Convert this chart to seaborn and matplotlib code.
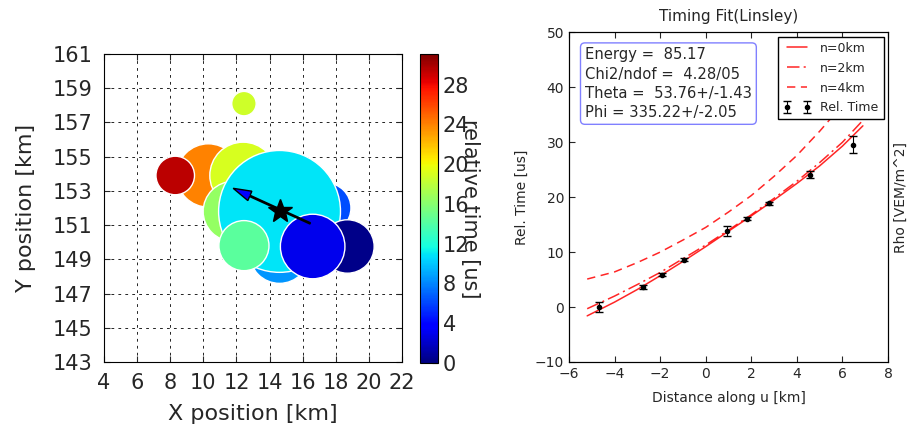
import numpy as np
import seaborn as sns
import matplotlib.pyplot as plt
from matplotlib import colors, cm

# --- left panel: stations (x, y in km), relative time [us], marker area
station_x = [10.3, 8.3, 12.4, 11.8, 14.6, 17.4, 14.6, 18.7, 16.6, 12.45, 12.45]
station_y = [153.9, 153.9, 153.9, 151.8, 149.35, 152.0, 151.8, 149.75, 149.75, 149.8, 158.1]
station_t = [24.0, 29.5, 19.0, 16.5, 8.5, 6.2, 10.9, 0.3, 3.0, 14.3, 18.6]
station_area = [2080, 770, 2300, 1870, 1870, 1300, 7700, 1480, 2160, 1300, 310]

core_x, core_y = 14.6, 151.8
arrow_from = (16.45, 151.1)
arrow_to = (11.8, 153.15)

# --- right panel: timing fit
dist = [-4.68, -2.75, -1.92, -0.97, 0.95, 1.83, 2.78, 4.59, 6.47]
rel_time = [0.0, 3.6, 5.9, 8.6, 13.9, 16.1, 18.9, 24.1, 29.6]
rel_err = [0.9, 0.4, 0.3, 0.3, 0.9, 0.3, 0.3, 0.6, 1.5]

fit_x = [-5.2, -4, -3, -2, -1, 0, 1, 2, 3, 4, 5, 6, 6.9]
fit_n0 = [-1.6, 0.9, 3.2, 5.7, 8.3, 11.0, 13.8, 16.6, 19.5, 22.5, 25.7, 29.3, 33.0]
fit_n2 = [-0.3, 2.0, 4.1, 6.3, 8.8, 11.3, 14.0, 16.8, 19.8, 22.9, 26.3, 30.0, 34.0]
fit_n4 = [5.1, 6.4, 8.1, 10.0, 12.2, 14.5, 17.3, 20.3, 23.8, 27.6, 32.0, 36.8, 41.5]

fit_text = ("Energy =  85.17\nChi2/ndof =  4.28/05\n"
            "Theta =  53.76+/-1.43\nPhi = 335.22+/-2.05")

sns.set_style("white", rc={
    "xtick.direction": "in", "ytick.direction": "in",
    "xtick.top": True, "ytick.right": True,
    "xtick.bottom": True, "ytick.left": True,
    "axes.edgecolor": "black", "axes.linewidth": 1.0,
})
plt.rcParams['font.family'] = ['DejaVu Sans']
plt.rcParams['lines.scale_dashes'] = False

fig = plt.figure(figsize=(9.07, 4.33), dpi=100)
ax1 = fig.add_axes([0.1147, 0.164, 0.3286, 0.7113])
cax = fig.add_axes([0.463, 0.162, 0.0198, 0.7136])
ax2 = fig.add_axes([0.6273, 0.164, 0.3517, 0.761])

# left: station map
jet = plt.get_cmap("jet")
norm = colors.Normalize(vmin=0, vmax=31.1)
sns.scatterplot(x=station_x, y=station_y, hue=station_t, palette=jet,
                hue_norm=norm, s=station_area, edgecolor="white",
                linewidth=1.0, legend=False, ax=ax1, zorder=3)
ax1.plot(core_x, core_y, marker="*", color="black", markersize=18, zorder=5)
ax1.arrow(arrow_from[0], arrow_from[1],
          arrow_to[0] - arrow_from[0], arrow_to[1] - arrow_from[1],
          width=0.08, head_width=0.6, head_length=1.1,
          length_includes_head=True, fc="blue", ec="black", zorder=6)
ax1.set_xlim(4, 22)
ax1.set_ylim(143, 161)
ax1.set_xticks(np.arange(4, 23, 2))
ax1.set_yticks(np.arange(143, 162, 2))
ax1.grid(True, color="black", linestyle=(0, (2, 3)), linewidth=0.6)
ax1.tick_params(labelsize=15, length=4, pad=8)
ax1.set_xlabel("X position [km]", fontsize=16, labelpad=8)
ax1.set_ylabel("Y position [km]", fontsize=16, labelpad=12)

sm = cm.ScalarMappable(norm=norm, cmap=jet)
cbar = fig.colorbar(sm, cax=cax, ticks=np.arange(0, 29, 4))
cax.tick_params(labelsize=15, direction="in", length=4, left=False)
cax.text(2.8, 0.5, "relative time [us]", rotation=270, fontsize=15,
         ha="center", va="center", transform=cax.transAxes)

# right: timing fit
sns.lineplot(x=fit_x, y=fit_n0, ax=ax2, color="red", alpha=0.85,
             linewidth=1.1, label="n=0km")
sns.lineplot(x=fit_x, y=fit_n2, ax=ax2, color="red", alpha=0.85,
             linewidth=1.1, linestyle=(0, (9, 3, 1.5, 3)), label="n=2km")
sns.lineplot(x=fit_x, y=fit_n4, ax=ax2, color="red", alpha=0.85,
             linewidth=1.1, linestyle=(0, (6, 4)), label="n=4km")
eb = ax2.errorbar(dist, rel_time, yerr=rel_err, fmt="o", color="black",
                  markersize=3, capsize=3, elinewidth=0.8, label="Rel. Time")
ax2.set_xlim(-6, 8)
ax2.set_ylim(-10, 50)
ax2.set_xticks(np.arange(-6, 9, 2))
ax2.set_yticks(np.arange(-10, 51, 10))
ax2.tick_params(labelsize=10, length=4)
ax2.set_xlabel("Distance along u [km]", fontsize=10, labelpad=7)
ax2.set_ylabel("Rel. Time [us]", fontsize=10)
ax2.set_title("Timing Fit(Linsley)", fontsize=11, pad=8)

handles, labels = ax2.get_legend_handles_labels()
order = [labels.index(l) for l in ["n=0km", "n=2km", "n=4km", "Rel. Time"]]
leg = ax2.legend([handles[i] for i in order], [labels[i] for i in order],
                 loc="upper right", fontsize=9, numpoints=2, fancybox=False,
                 framealpha=1, edgecolor="black", labelspacing=0.55,
                 handlelength=2.2, borderaxespad=0.35)
leg.get_frame().set_linewidth(1.0)

ax2.text(0.05, 0.955, fit_text, transform=ax2.transAxes, fontsize=10.6,
         va="top", ha="left", linespacing=1.35,
         bbox=dict(boxstyle="round,pad=0.3", fc="white", ec="#8080ff"))

twin = ax2.twinx()
twin.set_yticks([])
twin.set_ylabel("Rho [VEM/m^2]", fontsize=10)

fig.savefig("out.png", dpi=100)
